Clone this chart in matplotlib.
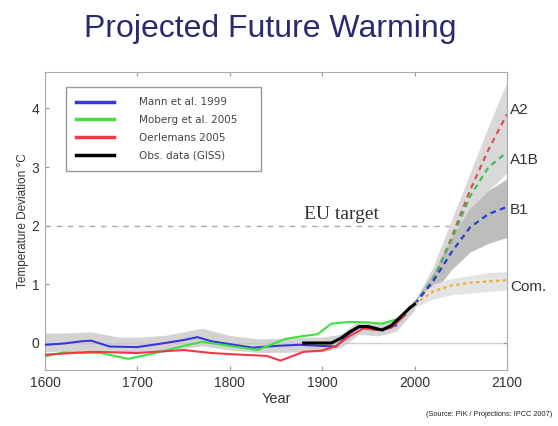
import matplotlib
matplotlib.use("Agg")
import matplotlib.pyplot as plt

plt.rcParams["font.family"] = ["Liberation Sans", "DejaVu Sans"]

# --- reconstructions (deg C) ---
mann_yr  = [1600, 1620, 1640, 1650, 1670, 1700, 1730, 1750, 1765, 1780, 1800, 1825, 1850, 1875, 1900, 1915, 1930, 1940, 1960, 1970, 1980]
mann_t   = [-0.03, -0.01, 0.03, 0.04, -0.06, -0.07, 0.0, 0.05, 0.10, 0.03, -0.02, -0.08, -0.05, -0.03, -0.05, -0.06, 0.17, 0.27, 0.22, 0.26, 0.30]
moberg_yr = [1600, 1620, 1660, 1690, 1720, 1750, 1770, 1800, 1830, 1860, 1880, 1895, 1910, 1930, 1950, 1965, 1980]
moberg_t  = [-0.23, -0.16, -0.17, -0.27, -0.17, -0.05, 0.02, -0.05, -0.12, 0.07, 0.12, 0.15, 0.33, 0.36, 0.35, 0.33, 0.40]
oerl_yr  = [1600, 1650, 1700, 1750, 1780, 1800, 1840, 1855, 1880, 1900, 1915, 1930, 1945, 1960, 1975, 1990]
oerl_t   = [-0.20, -0.15, -0.17, -0.12, -0.17, -0.19, -0.22, -0.30, -0.15, -0.13, -0.05, 0.12, 0.25, 0.22, 0.26, 0.48]
giss_yr  = [1880, 1900, 1910, 1920, 1930, 1940, 1950, 1965, 1975, 1985, 1995, 2000]
giss_t   = [0.0, 0.0, 0.0, 0.08, 0.19, 0.28, 0.28, 0.22, 0.30, 0.45, 0.60, 0.66]

band_yr = [1600, 1620, 1650, 1680, 1700, 1730, 1770, 1800, 1830, 1860, 1880, 1900, 1920, 1940, 1960, 1980, 2000]
band_lo = [-0.15, -0.14, -0.12, -0.16, -0.17, -0.12, -0.05, -0.12, -0.16, -0.16, -0.15, -0.15, -0.08, 0.15, 0.12, 0.20, 0.56]
band_hi = [0.17, 0.17, 0.19, 0.10, 0.10, 0.13, 0.25, 0.13, 0.07, 0.08, 0.10, 0.10, 0.15, 0.38, 0.35, 0.42, 0.75]

# --- IPCC scenarios ---
proj_yr = [2000, 2020, 2040, 2060, 2080, 2100]
a2   = [0.66, 1.05, 1.80, 2.60, 3.30, 3.90]
a1b  = [0.66, 1.10, 1.75, 2.50, 3.00, 3.25]
b1   = [0.66, 1.05, 1.55, 1.97, 2.20, 2.32]
com  = [0.66, 0.88, 0.98, 1.03, 1.05, 1.07]
a2_lo  = [0.60, 0.90, 1.50, 2.10, 2.60, 2.90]
a2_hi  = [0.72, 1.30, 2.10, 2.90, 3.70, 4.45]
b1_lo  = [0.60, 0.85, 1.25, 1.55, 1.70, 1.80]
b1_hi  = [0.72, 1.20, 1.80, 2.30, 2.60, 2.80]
com_lo = [0.60, 0.75, 0.82, 0.85, 0.88, 0.90]
com_hi = [0.72, 1.00, 1.10, 1.15, 1.20, 1.22]

scen_names = ["A2", "A1B", "B1", "Com."]
scen_label_t = [3.97, 3.12, 2.27, 0.95]
eu_target = 2.0

fig = plt.figure(figsize=(5.58, 4.26), dpi=100)
ax = fig.add_axes([0.0806, 0.1315, 0.828, 0.6995])

ax.axhline(0, color="#d0d0d0", lw=1.0, zorder=1)
ax.axhline(eu_target, color="#aaaaaa", lw=1.0, ls=(0, (4, 4)), zorder=1)

ax.fill_between(band_yr, band_lo, band_hi, color="#c8c8c8", alpha=0.8, lw=0, zorder=2)
ax.fill_between(proj_yr, a2_lo, a2_hi, color="#d9d9d9", lw=0, zorder=2)
ax.fill_between(proj_yr, b1_lo, b1_hi, color="#bdbdbd", lw=0, zorder=2)
ax.fill_between(proj_yr, com_lo, com_hi, color="#e4e3e6", lw=0, zorder=2)

ax.plot(mann_yr, mann_t, color="#3838d8", lw=1.5, label="Mann et al. 1999", zorder=4)
ax.plot(moberg_yr, moberg_t, color="#40e040", lw=1.5, label="Moberg et al. 2005", zorder=4)
ax.plot(oerl_yr, oerl_t, color="#f03848", lw=1.5, label="Oerlemans 2005", zorder=4)
ax.plot(giss_yr, giss_t, color="black", lw=2.2, label="Obs. data (GISS)", zorder=5)

dash = (0, (2.5, 2))
ax.plot(proj_yr, a2, color="#e05050", lw=1.6, ls=dash, zorder=4)
ax.plot(proj_yr, a1b, color="#40c060", lw=1.6, ls=dash, zorder=4)
ax.plot(proj_yr, b1, color="#2c3cd0", lw=1.6, ls=dash, zorder=4)
ax.plot(proj_yr, com, color="#f0b030", lw=1.6, ls=(0, (1.5, 1.5)), zorder=4)

for name, t in zip(scen_names, scen_label_t):
    ax.text(2103.5, t, name, fontsize=11, color="#333333", va="center", ha="left", clip_on=False)

ax.text(1880, 2.12, "EU target", fontsize=14, color="#333333",
        family=["Liberation Serif", "DejaVu Serif"], va="baseline")

ax.set_xlim(1600, 2100); ax.set_ylim(-0.46, 4.62)
ax.set_xticks([1600, 1700, 1800, 1900, 2000, 2100]); ax.set_yticks([0, 1, 2, 3, 4])
ax.tick_params(direction="in", length=3, color="#999999", labelsize=10, labelcolor="#333333",
               top=True, right=True, pad=4)
for s in ax.spines.values():
    s.set_color("#aaaaaa")
ax.set_xlabel("Year", fontsize=10.5, color="#333333", labelpad=2)
ax.set_ylabel("Temperature Deviation °C", fontsize=8.5, color="#333333", labelpad=2)

# legend box stretched to the width seen in the reference
leg = ax.legend(loc="upper left", bbox_to_anchor=(0.045, 0.95, 0.422, 0.0), mode="expand",
                borderaxespad=0, prop={"family": "DejaVu Sans", "size": 7.5}, handlelength=3.6,
                handletextpad=2.4, labelspacing=0.75, borderpad=1.0, fancybox=False,
                edgecolor="#999999", framealpha=1)
for t in leg.get_texts():
    t.set_color("#444444")
for h in leg.get_lines():
    h.set_linewidth(2.5)

fig.text(0.484, 1 - 37 / 426, "Projected Future Warming", fontsize=23, color="#2a2a6e",
         ha="center", va="baseline")
fig.text(0.99, 1 - 416 / 426, "(Source: PIK / Projections: IPCC 2007)", fontsize=5.3,
         color="#222222", ha="right", va="baseline")

fig.savefig("out.png", dpi=100)
